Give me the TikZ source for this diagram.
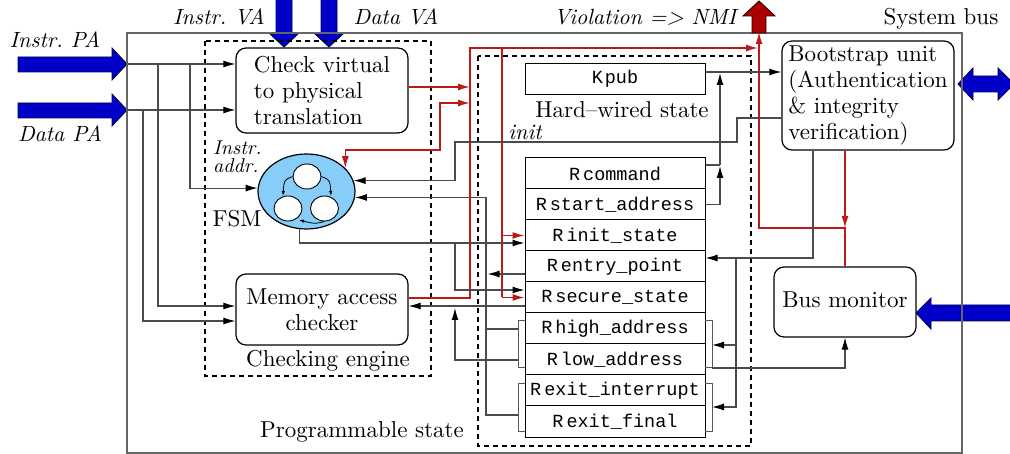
\documentclass[tikz,border=0pt]{standalone}
\usepackage{fontspec}
% use the 10pt design of Latin Modern at every size
\setmainfont{lmroman10-regular.otf}[ItalicFont=lmroman10-italic.otf,BoldFont=lmroman10-bold.otf]
\newfontfamily\regfont{Liberation Mono}
\usetikzlibrary{arrows.meta,shapes.geometric,calc}

\definecolor{linegray}{RGB}{75,75,75}
\definecolor{violred}{RGB}{190,25,25}
\definecolor{nmired}{RGB}{170,0,0}
\definecolor{busblue}{RGB}{0,0,200}
\definecolor{fsmblue}{RGB}{135,205,250}

\begin{document}
\begin{tikzpicture}[x=1pt,y=-1pt,
  box/.style={draw=black,line width=1.2pt,rounded corners=10pt,fill=white,inner sep=0pt,font=\fontsize{23}{26}\selectfont},
  reg/.style={draw=black,line width=1pt,minimum width=180pt,minimum height=31pt,inner sep=0pt,font=\regfont\fontsize{18.5}{20}\selectfont},
  dashbox/.style={draw=black,line width=1.1pt,dash pattern=on 5pt off 4pt},
  lab/.style={anchor=base,inner sep=0pt,font=\fontsize{23}{26}\selectfont},
  ilab/.style={anchor=base,inner sep=0pt,font=\fontsize{22}{26}\selectfont\itshape},
  conn/.style={draw=linegray,line width=1.1pt},
  ah/.style={-{Latex[length=12pt,width=7pt,color=black]}},
  rah/.style={-{Latex[length=12pt,width=7pt]}},
  viol/.style={draw=violred,line width=1.4pt},
  busarrow/.style={fill=busblue,draw=black!70!blue,line width=0.9pt,line join=miter},
  brk/.style={draw=black!65,line width=1pt},
  state/.style={ellipse,draw=black,fill=white,line width=0.9pt,minimum width=28pt,minimum height=25pt,inner sep=0pt},
  small/.style={-{Latex[length=5pt,width=3.5pt]},line width=0.8pt},
]
\useasboundingbox (0,0) rectangle (1010,454);

% external bus arrows
\path[busarrow] (18,57) -- (112,57) -- (112,48) -- (127,64) -- (112,80) -- (112,72) -- (18,72) -- cycle;
\path[busarrow] (18,103) -- (112,103) -- (112,94) -- (127,110) -- (112,126) -- (112,118) -- (18,118) -- cycle;
\path[busarrow] (276,-2) -- (292,-2) -- (292,33) -- (299,33) -- (284,47) -- (269,33) -- (276,33) -- cycle;
\path[busarrow] (321,-2) -- (337,-2) -- (337,33) -- (344,33) -- (329,47) -- (314,33) -- (321,33) -- cycle;
\path[busarrow] (958,84) -- (973,68) -- (973,76) -- (998,76) -- (998,68) -- (1014,84) -- (998,100) -- (998,92) -- (973,92) -- (973,100) -- cycle;
\path[busarrow] (916,313) -- (931,298) -- (931,305) -- (1016,305) -- (1016,321) -- (931,321) -- (931,329) -- cycle;

% system bus outline
\draw[draw=black!60,line width=1.2pt] (127,33) rectangle (962,453);
\node[lab] at (941,25) {System bus};

% violation output arrow
\path[fill=nmired,draw=black!80!red,line width=0.9pt,line join=miter]
  (752,33) -- (766,33) -- (766,16) -- (775,16) -- (759,1) -- (743,16) -- (752,16) -- cycle;

% grouping frames
\draw[dashbox] (205,41) rectangle (431,376);
\draw[dashbox] (478,56) rectangle (751,446);

% blocks
\node[box,minimum width=172pt,minimum height=85pt,align=left] (cvt) at (322,90.5) {Check virtual\\to physical\\translation};
\node[box,minimum width=172pt,minimum height=71pt,align=center] (mac) at (322,309.5) {Memory access\\checker};
\node[box,minimum width=172pt,minimum height=109pt,align=left] (boot) at (868,95.5) {Bootstrap unit\\(Authentication\\\& integrity\\verification)};
\node[box,minimum width=142pt,minimum height=70pt] (busmon) at (845,302) {\raisebox{4pt}{Bus monitor}};

% finite state machine
\node[ellipse,draw=black,fill=fsmblue,line width=1.2pt,minimum width=97pt,minimum height=75pt,inner sep=0pt] (fsm) at (306.5,191.5) {};
\node[state] (s1) at (307,176.5) {};
\node[state] (s2) at (288,208.5) {};
\node[state] (s3) at (324.5,208.5) {};
\draw[small] (s1.west) .. controls (284,180) .. (283,196);
\draw[small] (s1.east) .. controls (330,180) .. (331,196);
\draw[small] (s3.south) .. controls (315,224) .. (299,220);

% hard-wired key and register file
\node[reg] (kpub) at (615,79) {K\hspace{2pt}pub};
\node[reg] (rcmd)   at (615,173.5) {R\hspace{3pt}command};
\node[reg] (rstart) at (615,204.5) {R\hspace{3pt}start\_address};
\node[reg] (rinit)  at (615,235.5) {R\hspace{3pt}init\_state};
\node[reg] (rentry) at (615,266.5) {R\hspace{3pt}entry\_point};
\node[reg] (rsec)   at (615,297.5) {R\hspace{3pt}secure\_state};
\node[reg] (rhigh)  at (615,328.5) {R\hspace{3pt}high\_address};
\node[reg] (rlow)   at (615,359.5) {R\hspace{3pt}low\_address};
\node[reg] (rexi)   at (615,390.5) {R\hspace{3pt}exit\_interrupt};
\node[reg] (rexf)   at (615,421.5) {R\hspace{3pt}exit\_final};

% brackets grouping register pairs
\draw[brk] (525,321) -- (518,321) -- (518,368) -- (525,368);
\draw[brk] (705,321) -- (712,321) -- (712,368) -- (705,368);
\draw[brk] (525,384) -- (518,384) -- (518,431) -- (525,431);
\draw[brk] (705,384) -- (712,384) -- (712,431) -- (705,431);
\coordinate (hlL) at (518,329);
\coordinate (hlLlow) at (518,360);
\coordinate (hlR) at (712,345);
\coordinate (hlRb) at (712,368);
\coordinate (exL) at (518,415);
\coordinate (exR) at (712,407);

% labels
\node[ilab] at (55,48) {Instr.\ PA};
\node[ilab] at (60,142) {Data PA};
\node[ilab] at (219,25) {Instr.\ VA};
\node[ilab] at (396,25) {Data VA};
\node[ilab] at (645,25) {Violation => NMI};
\node[ilab,anchor=base west,font=\fontsize{20}{16}\selectfont\itshape] at (213,155) {Instr.};
\node[ilab,anchor=base west,font=\fontsize{20}{16}\selectfont\itshape] at (213,173) {addr.};
\node[lab] at (237,227) {FSM};
\node[lab] at (622,118) {Hard--wired state};
\node[ilab] at (525,140) {init};
\node[lab] at (328,367) {Checking engine};
\node[lab] at (362,438) {Programmable state};

% physical address inputs
\coordinate (ipa) at (127,64);
\coordinate (dpa) at (127,110);
\coordinate (ja) at (158,64);
\coordinate (jb) at (190,64);
\coordinate (jc) at (143,110);
\draw[conn,ah] (ipa) -- (cvt.west |- ipa);
\draw[conn,ah] (dpa) -- (cvt.west |- dpa);
\draw[conn,ah] (ja) |- ([yshift=3.5pt]mac.west);
\draw[conn,ah] (jb) |- (fsm.176);
\draw[conn,ah] (jc) |- ([yshift=-11.5pt]mac.west);

% violation signals
\coordinate (ra) at (470,48);
\coordinate (rb) at (502,48);
\coordinate (rfsm) at (470,103);
\coordinate (nmi) at (759,33);
\coordinate (rj) at (845,228);
\draw[viol,rah] ([yshift=3.5pt]cvt.east) -- ([yshift=3.5pt]cvt.east -| ra);
\draw[viol,rah] ([yshift=11.5pt]mac.east) -| (ra) -- ([xshift=-1pt]ra -| nmi);
\draw[viol] (rb) -- (rb |- rsec.west);
\draw[viol,rah] (rb |- rsec.west) -- (rsec.west);
\draw[viol,rah] (rinit.west -| rb) -- (rinit.west);
\draw[viol,{Latex[length=12pt,width=7pt]}-{Latex[length=12pt,width=7pt]}] (fsm.31) |- (440,150) |- (rfsm);
\draw[viol,rah] ([xshift=-23pt]boot.south) -- (rj);
\draw[viol,rah] (busmon.north) -- (rj) -| ([yshift=1pt]nmi);

% control and data paths
\draw[conn,ah] ([yshift=-22.5pt]boot.west) -| (737,142) -- (455,142) |- (fsm.13);
\draw[conn,ah] (exL) -- (486,415) |- (fsm.-7);
\draw[conn] (hlL) -- (486,329);
\draw[conn,ah] ([yshift=-7.5pt]rentry.west) -- ++(-37,0);
\draw[conn,ah] (fsm.-101) |- ([yshift=-7.5pt]rinit.west);
\draw[conn,ah] (455,243) |- ([yshift=7.5pt]rsec.west);
\draw[conn,ah] ([yshift=-8.5pt]rsec.west) -- ([yshift=3.5pt]mac.east);
\draw[conn,ah] (hlLlow) -| (455,308);
\draw[conn] ([yshift=8.5pt]rcmd.east) -- (720,165);
\draw[conn,ah] (rstart.east) -| (720,166);
\draw[conn,ah] (720,165) -- (720,73);
\draw[conn,ah] ([yshift=7pt]kpub.east) -- ([yshift=7pt]kpub.east -| boot.west);
\draw[conn,ah] ([xshift=-55pt]boot.south) |- ([yshift=8.5pt]rentry.east);
\draw[conn,ah] (736,258) |- (hlR);
\draw[conn,ah] (736,258) |- (exR);
\draw[conn,ah] (hlRb) -| (busmon.south);
\end{tikzpicture}
\end{document}
